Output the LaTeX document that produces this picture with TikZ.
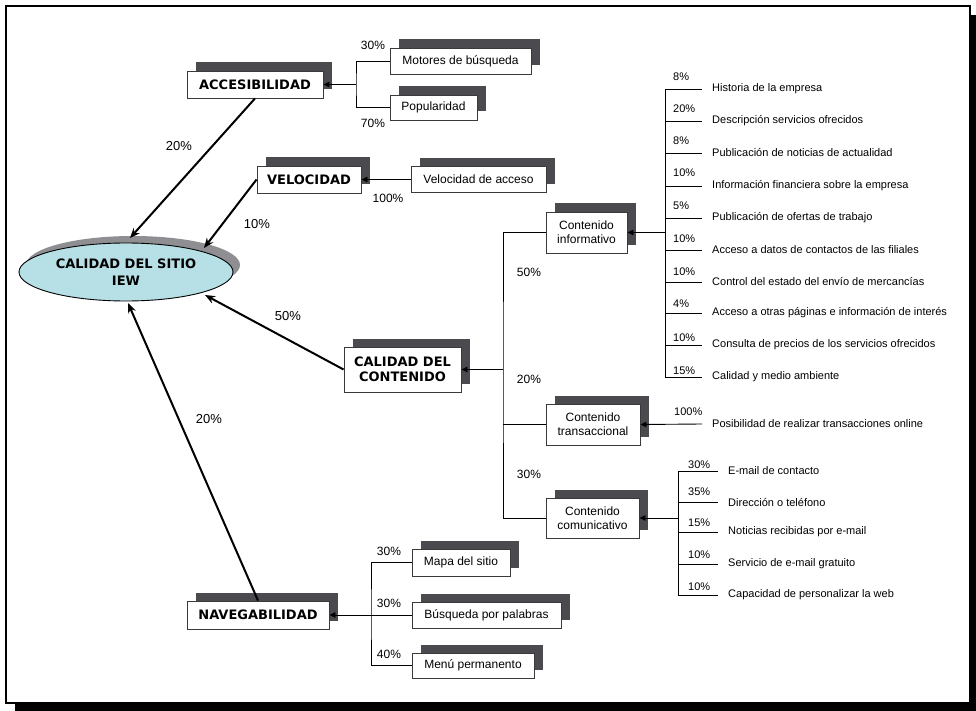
\documentclass[tikz,border=0pt]{standalone}
\usepackage{fontspec}
\setmainfont{Liberation Sans}
\newfontfamily\hdfont{DejaVu Sans}
\usetikzlibrary{arrows.meta,shadows,shapes.geometric}
\definecolor{shgray}{HTML}{4A4A4F}
\definecolor{ellgray}{HTML}{8E8E93}
\definecolor{ellcyan}{HTML}{B7E0E6}
\definecolor{bordgray}{HTML}{3A3A3A}
\tikzset{
  sbox/.style={draw=bordgray, fill=white, line width=0.9pt, inner sep=0pt, align=center,
    drop shadow={shadow xshift=8.5pt, shadow yshift=8.5pt, fill=shgray, opacity=1},
    font=\fontsize{12}{14}\selectfont},
  hbox/.style={sbox, font=\hdfont\bfseries\fontsize{13}{15}\selectfont},
  item/.style={anchor=west, inner xsep=10pt, inner ysep=1pt, font=\fontsize{11}{13}\selectfont},
  pct/.style={anchor=base west, inner sep=0pt, font=\fontsize{11}{13}\selectfont},
  lab/.style={inner sep=0pt, font=\fontsize{12}{14}\selectfont},
  blab/.style={inner sep=0pt, font=\fontsize{13}{15}\selectfont},
  conn/.style={line width=0.9pt, draw=black},
  tip/.style={conn, -{Triangle[length=6pt,width=5.5pt]}},
  big/.style={line width=2pt, -{Stealth[length=10pt,width=8pt]}}
}
\begin{document}
\begin{tikzpicture}[x=1pt,y=-1pt]
\useasboundingbox (0,0) rectangle (976,711);
% frame
\fill[black] (15,15) rectangle (976,711);
\draw[line width=1.8pt, fill=white] (6,6) rectangle (970,703);

% central ellipse
\node[ellipse, draw=black, line width=0.9pt, fill=ellcyan, minimum width=214pt, minimum height=58pt, inner sep=0pt,
  drop shadow={shadow xshift=7pt, shadow yshift=7pt, fill=ellgray, opacity=1},
  align=center, font=\hdfont\bfseries\fontsize{13}{17}\selectfont] (site) at (126,272) {CALIDAD DEL SITIO\\IEW};

% accesibilidad
\node[hbox, minimum width=136pt, minimum height=27pt] (acc) at (255,84.5) {ACCESIBILIDAD};
\node[sbox, minimum width=141pt, minimum height=26pt] (mot) at (460.5,61) {Motores de búsqueda};
\node[sbox, minimum width=87pt, minimum height=25pt] (pop) at (433.5,107.5) {Popularidad};
\coordinate (aj) at (356,84.5);
\draw[conn] (mot.west) -| (aj) |- (pop.west);
\draw[tip] (aj) -- (acc.east);
\node[lab] (p30a) at (373,45) {30\%};
\node[lab] (p70a) at (373,123) {70\%};

% velocidad
\node[hbox, minimum width=104pt, minimum height=27pt] (vel) at (309,179.5) {VELOCIDAD};
\node[sbox, minimum width=135pt, minimum height=26pt] (vac) at (478.5,179.5) {Velocidad de acceso};
\draw[tip] (vac.west) -- (vel.east);
\node[lab] (p100v) at (388,198) {100\%};

% calidad del contenido
\node[hbox, minimum width=117pt, minimum height=45pt] (cc) at (402.5,369.5) {CALIDAD DEL\\CONTENIDO};
\node[sbox, minimum width=81pt, minimum height=41pt] (cinf) at (586.5,232.5) {Contenido\\informativo};
\node[sbox, minimum width=94pt, minimum height=41pt] (ctra) at (593,424.5) {Contenido\\transaccional};
\node[sbox, minimum width=93pt, minimum height=40pt] (ccom) at (592.5,518) {Contenido\\comunicativo};
\coordinate (cj) at (503,369.5);
\draw[conn] (cinf.west) -| (cj) |- (ccom.west);
\draw[conn] (ctra.west) -- (ctra.west -| cj);
\draw[tip] (cj) -- (cc.east);
\node[lab] (p50c) at (529,272) {50\%};
\node[lab] (p20c) at (529,379) {20\%};
\node[lab] (p30c) at (529,474) {30\%};

% informativo items
\coordinate (ij) at (665,232.5);
\node[item] (i1) at (702,89) {Historia de la empresa};
\node[item] (i2) at (702,121) {Descripción servicios ofrecidos};
\node[item] (i3) at (702,153) {Publicación de noticias de actualidad};
\node[item] (i4) at (702,186) {Información financiera sobre la empresa};
\node[item] (i5) at (702,218) {Publicación de ofertas de trabajo};
\node[item] (i6) at (702,250) {Acceso a datos de contactos de las filiales};
\node[item] (i7) at (702,282) {Control del estado del envío de mercancías};
\node[item] (i8) at (702,313) {Acceso a otras páginas e información de interés};
\node[item] (i9) at (702,345) {Consulta de precios de los servicios ofrecidos};
\node[item] (i10) at (702,377) {Calidad y medio ambiente};
\draw[conn] (ij |- i1.west) -- (ij |- i10.west);
\foreach \k in {1,...,10} { \draw[conn] (ij |- i\k.west) -- (i\k.west); }
\draw[tip] (ij) -- (cinf.east);
\node[pct] (q1) at (673,81) {8\%};
\node[pct] (q2) at (673,113) {20\%};
\node[pct] (q3) at (673,145) {8\%};
\node[pct] (q4) at (673,177) {10\%};
\node[pct] (q5) at (673,210) {5\%};
\node[pct] (q6) at (673,243) {10\%};
\node[pct] (q7) at (673,275) {10\%};
\node[pct] (q8) at (673,307) {4\%};
\node[pct] (q9) at (673,341) {10\%};
\node[pct] (q10) at (673,374) {15\%};

% transaccional
\node[item] (t1) at (702,424) {Posibilidad de realizar transacciones online};
\draw[tip] (t1.west) -- (ctra.east);
\node[pct] (qt) at (674,415) {100\%};

% comunicativo
\coordinate (kj) at (678,518);
\node[item] (k1) at (718,471) {E-mail de contacto};
\node[item] (k2) at (718,502) {Dirección o teléfono};
\node[item] (k3) at (718,532) {Noticias recibidas por e-mail};
\node[item] (k4) at (718,564) {Servicio de e-mail gratuito};
\node[item] (k5) at (718,595) {Capacidad de personalizar la web};
\draw[conn] (kj |- k1.west) -- (kj |- k5.west);
\foreach \k in {1,...,5} { \draw[conn] (kj |- k\k.west) -- (k\k.west); }
\draw[tip] (kj) -- (ccom.east);
\node[pct] (r1) at (688,468) {30\%};
\node[pct] (r2) at (688,495) {35\%};
\node[pct] (r3) at (688,526) {15\%};
\node[pct] (r4) at (688,558) {10\%};
\node[pct] (r5) at (688,590) {10\%};

% navegabilidad
\node[hbox, minimum width=142pt, minimum height=28pt] (nav) at (258,615) {NAVEGABILIDAD};
\node[sbox, minimum width=98pt, minimum height=27pt] (mapa) at (461,562.5) {Mapa del sitio};
\node[sbox, minimum width=149pt, minimum height=26pt] (busq) at (486.5,615) {Búsqueda por palabras};
\node[sbox, minimum width=122pt, minimum height=25pt] (menu) at (473,665.5) {Menú permanento};
\coordinate (nj) at (371,615);
\draw[conn] (mapa.west) -| (nj) |- (menu.west);
\draw[tip] (busq.west) -- (nav.east);
\node[lab] (p30n1) at (389,551) {30\%};
\node[lab] (p30n2) at (389,603) {30\%};
\node[lab] (p40n) at (389,654) {40\%};

% main arrows to the site
\coordinate (e1) at (130,238);
\coordinate (e2) at (204,248);
\coordinate (e3) at (205,295);
\coordinate (e4) at (128,303);
\draw[big] (acc.south) -- (e1);
\draw[big] (vel.west) -- (e2);
\draw[big] (cc.west) -- (e3);
\draw[big] (nav.north) -- (e4);
\node[blab] (m20a) at (179,146) {20\%};
\node[blab] (m10v) at (257,224) {10\%};
\node[blab] (m50c) at (288,316) {50\%};
\node[blab] (m20n) at (209,419) {20\%};
\end{tikzpicture}
\end{document}
